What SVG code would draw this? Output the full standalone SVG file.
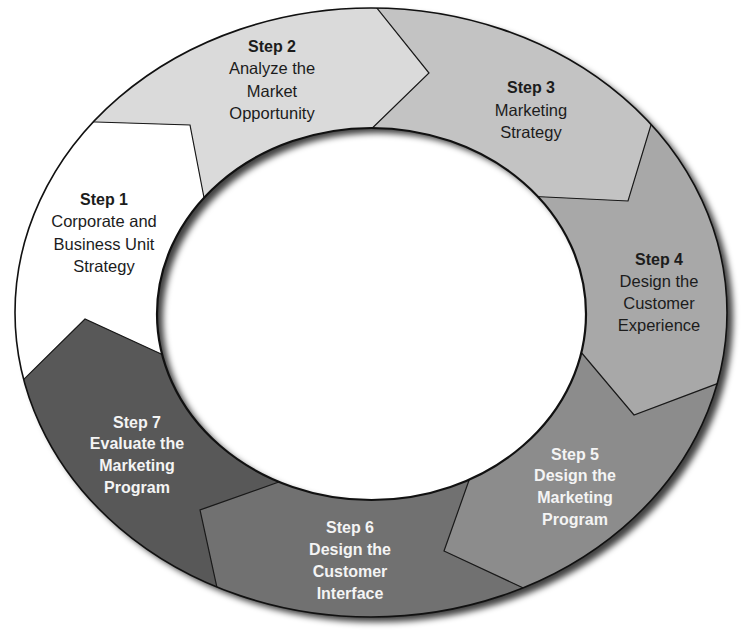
<svg xmlns="http://www.w3.org/2000/svg" width="752" height="636" viewBox="0 0 752 636">
  <defs>
    <clipPath id="ring">
      <path clip-rule="evenodd" d="M15,312.5 A356,304.5 0 1 0 727,312.5 A356,304.5 0 1 0 15,312.5 Z M157,314 A214.5,186 0 1 0 586,314 A214.5,186 0 1 0 157,314 Z"/>
    </clipPath>
    <filter id="blur" x="-10%" y="-10%" width="120%" height="120%">
      <feGaussianBlur stdDeviation="3"/>
    </filter>
  </defs>
  <style>
    .t { font-family: "Liberation Sans", Arial, sans-serif; text-anchor: middle; }
    .h { font-size: 16px; font-weight: bold; }
    .r { font-size: 16.5px; }
    .b { font-size: 16px; font-weight: bold; }
    .dk { fill: #1c1c1c; }
    .lt { fill: #f4f4f4; }
    .seg { stroke: none; }
    .bd { fill: none; stroke: #1a1a1a; stroke-width: 1.2; stroke-linejoin: miter; }
  </style>
  <rect width="752" height="636" fill="#ffffff"/>

  <!-- drop shadow of ring -->
  <path fill="#000" fill-opacity="0.75" fill-rule="evenodd" filter="url(#blur)" transform="translate(6,5)" d="M15,312.5 A356,304.5 0 1 0 727,312.5 A356,304.5 0 1 0 15,312.5 Z M157,314 A214.5,186 0 1 0 586,314 A214.5,186 0 1 0 157,314 Z"/>

  <g clip-path="url(#ring)">
    <g id="step1"><polygon class="seg" fill="#ffffff" points="371,313 172,359 85,319 13,390 -703,544 -502,-261.5 80,121.5 190,125 206,208"/></g>
    <g id="step2"><polygon class="seg" fill="#dadada" points="371,313 206,208 190,125 80,121.5 -502,-261.5 362,-635 368,-3 429,73 360,140"/></g>
    <g id="step3"><polygon class="seg" fill="#c3c3c3" points="371,313 360,140 429,73 368,-3 362,-635 1229,-311 657,105 628,201 525,196"/></g>
    <g id="step4"><polygon class="seg" fill="#a8a8a8" points="371,313 525,196 628,201 657,105 1229,-311 1463,505 735,377 634,415 575,345"/></g>
    <g id="step5"><polygon class="seg" fill="#8c8c8c" points="371,313 575,345 634,415 735,377 1463,505 896,1169.5 546,598.5 444,551 473,469"/></g>
    <g id="step6"><polygon class="seg" fill="#717171" points="371,313 473,469 444,551 546,598.5 896,1169.5 -79,1192 221,606 200,510 290,478"/></g>
    <g id="step7"><polygon class="seg" fill="#585858" points="371,313 290,478 200,510 221,606 -79,1192 -703,544 13,390 85,319 172,359"/></g>
    <g id="connectors">
      <polyline class="bd" points="206,208 190,125 80,121.5"/>
      <polyline class="bd" points="360,140 429,73 368,-3"/>
      <polyline class="bd" points="525,196 628,201 657,105"/>
      <polyline class="bd" points="575,345 634,415 735,377"/>
      <polyline class="bd" points="473,469 444,551 546,598.5"/>
      <polyline class="bd" points="290,478 200,510 221,606"/>
      <polyline class="bd" points="172,359 85,319 13,390"/>
    </g>
  </g>

  <ellipse cx="371" cy="312.5" rx="356" ry="304.5" fill="none" stroke="#111" stroke-width="1.6"/>
  <ellipse cx="371.5" cy="314" rx="214.5" ry="186" fill="none" stroke="#111" stroke-width="2.2"/>

  <g id="labels">
    <text class="t dk" x="104"><tspan class="h" x="104" y="205">Step 1</tspan><tspan class="r" x="104" y="227">Corporate and</tspan><tspan class="r" x="104" y="250">Business Unit</tspan><tspan class="r" x="104" y="272">Strategy</tspan></text>
    <text class="t dk" x="272"><tspan class="h" x="272" y="52">Step 2</tspan><tspan class="r" x="272" y="74">Analyze the</tspan><tspan class="r" x="272" y="97">Market</tspan><tspan class="r" x="272" y="119">Opportunity</tspan></text>
    <text class="t dk" x="531"><tspan class="h" x="531" y="93">Step 3</tspan><tspan class="r" x="531" y="116">Marketing</tspan><tspan class="r" x="531" y="138">Strategy</tspan></text>
    <text class="t dk" x="659"><tspan class="h" x="659" y="265">Step 4</tspan><tspan class="r" x="659" y="287">Design the</tspan><tspan class="r" x="659" y="309">Customer</tspan><tspan class="r" x="659" y="331">Experience</tspan></text>
    <text class="t lt" x="575"><tspan class="b" x="575" y="460">Step 5</tspan><tspan class="b" x="575" y="481">Design the</tspan><tspan class="b" x="575" y="503">Marketing</tspan><tspan class="b" x="575" y="525">Program</tspan></text>
    <text class="t lt" x="350"><tspan class="b" x="350" y="533">Step 6</tspan><tspan class="b" x="350" y="555">Design the</tspan><tspan class="b" x="350" y="577">Customer</tspan><tspan class="b" x="350" y="599">Interface</tspan></text>
    <text class="t lt" x="137"><tspan class="b" x="137" y="428">Step 7</tspan><tspan class="b" x="137" y="449">Evaluate the</tspan><tspan class="b" x="137" y="471">Marketing</tspan><tspan class="b" x="137" y="493">Program</tspan></text>
  </g>
</svg>
